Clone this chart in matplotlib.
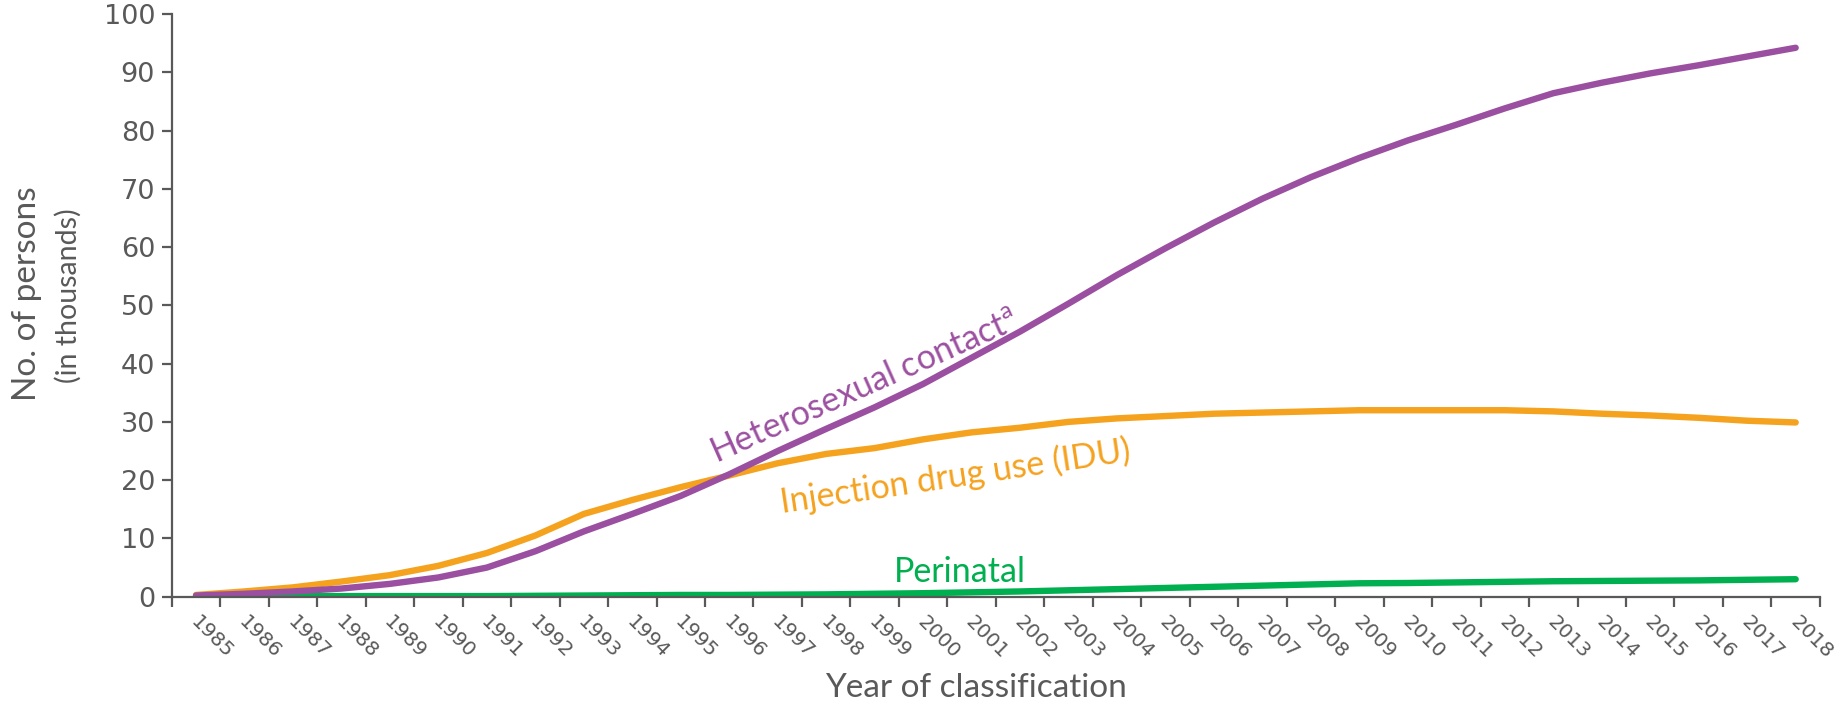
import numpy as np
import matplotlib
matplotlib.use("Agg")
import matplotlib.pyplot as plt
import matplotlib.transforms as mtransforms

# Persons living with diagnosed HIV, by transmission category (thousands)
years = list(range(1985, 2019))
heterosexual = [0.2, 0.5, 0.9, 1.4, 2.2, 3.3, 5.0, 7.8, 11.2, 14.2, 17.3, 21.0,
                25.0, 28.8, 32.5, 36.5, 41.0, 45.5, 50.3, 55.2, 59.8, 64.2, 68.3,
                72.0, 75.3, 78.3, 81.0, 83.8, 86.4, 88.2, 89.8, 91.2, 92.7, 94.2]
idu = [0.3, 0.9, 1.6, 2.6, 3.7, 5.3, 7.5, 10.5, 14.2, 16.6, 18.8, 20.8,
       22.9, 24.5, 25.5, 27.0, 28.2, 29.0, 30.0, 30.6, 31.0, 31.4, 31.6,
       31.8, 32.0, 32.0, 32.0, 32.0, 31.8, 31.4, 31.1, 30.7, 30.2, 29.9]
perinatal = [0.05, 0.1, 0.1, 0.1, 0.1, 0.1, 0.1, 0.15, 0.2, 0.25, 0.3, 0.3,
             0.35, 0.4, 0.5, 0.6, 0.75, 0.9, 1.1, 1.3, 1.5, 1.7, 1.9, 2.1,
             2.3, 2.35, 2.45, 2.55, 2.65, 2.7, 2.75, 2.8, 2.9, 3.0]

PURPLE = "#9B4FA0"
ORANGE = "#F5A21F"
GREEN = "#00AF50"
GREY = "#595959"

plt.rcParams["mathtext.fontset"] = "custom"
plt.rcParams["mathtext.rm"] = "Lato"
LABEL_FONT = "Lato"

fig = plt.figure(figsize=(18.45, 7.09), dpi=100)
ax = fig.add_axes([0.0931, 0.1584, 0.8933, 0.8219])

x = np.arange(len(years))
for vals, col in [(perinatal, GREEN), (idu, ORANGE), (heterosexual, PURPLE)]:
    ax.plot(x, vals, color=col, lw=4.6, solid_capstyle="round",
            solid_joinstyle="round")

ax.set_xlim(-0.5, len(years) - 0.5)
ax.set_ylim(0, 100)
ax.set_yticks(range(0, 101, 10))

# category axis: tick marks between years, labels centred on years
ax.set_xticks(np.arange(len(years) + 1) - 0.5)
ax.set_xticklabels([])
ax.set_xticks(x, minor=True)
ax.set_xticklabels([str(y) for y in years], minor=True, rotation=-45,
                   ha="left", va="top", rotation_mode="anchor",
                   fontsize=14.5, color=GREY)
ax.tick_params(axis="x", which="minor", length=0, pad=11)
offset = mtransforms.ScaledTranslation(4 / 100, 0, fig.dpi_scale_trans)
for lab in ax.get_xticklabels(minor=True):
    lab.set_transform(lab.get_transform() + offset)

ax.tick_params(axis="both", which="major", direction="out", length=7,
               width=1.6, color=GREY, labelcolor=GREY)
ax.tick_params(axis="y", labelsize=19.5, pad=5)

for side in ["top", "right"]:
    ax.spines[side].set_visible(False)
for side in ["left", "bottom"]:
    ax.spines[side].set_color(GREY)
    ax.spines[side].set_linewidth(1.6)

# axis titles
fig.text(27 / 1845, 1 - 294 / 709, "No. of persons", rotation=90,
         ha="center", va="center", fontsize=24, color=GREY, family=LABEL_FONT)
fig.text(68 / 1845, 1 - 296 / 709, "(in thousands)", rotation=90,
         ha="center", va="center", fontsize=20.5, color=GREY, family=LABEL_FONT)
fig.text(976 / 1845, 1 - 688 / 709, "Year of classification",
         ha="center", va="center", fontsize=24, color=GREY, family=LABEL_FONT)

# series labels placed along the curves
fig.text(864 / 1845, 1 - 386 / 709, r"Heterosexual contact$^{\mathrm{a}}$",
         rotation=24, ha="center", va="center", rotation_mode="anchor",
         fontsize=24.5, color=PURPLE, family=LABEL_FONT)
fig.text(955 / 1845, 1 - 476 / 709, "Injection drug use (IDU)",
         rotation=8.5, ha="center", va="center", rotation_mode="anchor",
         fontsize=24.5, color=ORANGE, family=LABEL_FONT)
fig.text(960 / 1845, 1 - 572 / 709, "Perinatal",
         ha="center", va="center", fontsize=24.5, color=GREEN, family=LABEL_FONT)

fig.savefig("out.png", dpi=100)
